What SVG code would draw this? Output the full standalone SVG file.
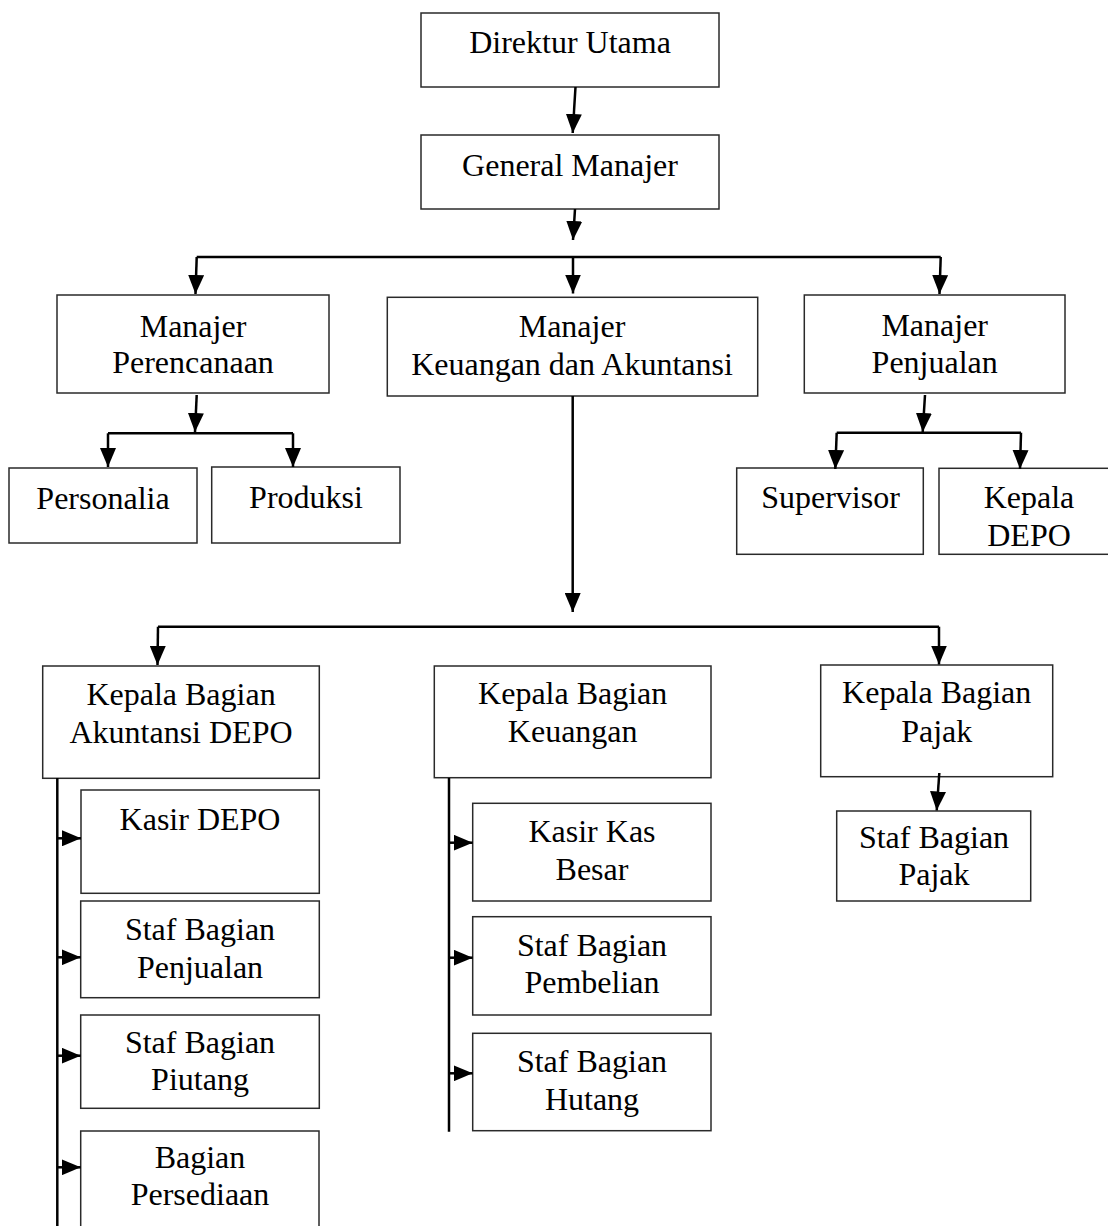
<svg xmlns="http://www.w3.org/2000/svg" width="1108" height="1226" viewBox="0 0 1108 1226">
<style>
.box{fill:#fff;stroke:#2a2a2a;stroke-width:1.5}
.t{font-family:"Liberation Serif","Times New Roman",serif;font-size:32px;fill:#000;text-anchor:middle}
.c{fill:none;stroke:#000;stroke-width:2.5}
.a{fill:none;stroke:#000;stroke-width:2.5;marker-end:url(#ah)}
</style>
<defs>
<marker id="ah" markerUnits="userSpaceOnUse" viewBox="0 0 19 16" markerWidth="19" markerHeight="16" refX="19" refY="8" orient="auto">
<path d="M0,0 L19,8 L0,16 z" fill="#000"/>
</marker>
<clipPath id="clipPajak"><rect x="836" y="811" width="196" height="89"/></clipPath>
</defs>
<rect width="1108" height="1226" fill="#fff"/>

<g id="n-direktur"><rect class="box" x="421" y="13" width="298" height="74"/><text class="t" x="570" y="53">Direktur Utama</text></g>
<g id="n-gm"><rect class="box" x="421" y="135" width="298" height="74"/><text class="t" x="570" y="176">General Manajer</text></g>
<g id="n-perencanaan"><rect class="box" x="57" y="295" width="272" height="98"/><text class="t" x="193" y="337">Manajer</text><text class="t" x="193" y="373">Perencanaan</text></g>
<g id="n-keuangan"><rect class="box" x="387.3" y="297.3" width="370.4" height="98.7"/><text class="t" x="572" y="337">Manajer</text><text class="t" x="572" y="375">Keuangan dan Akuntansi</text></g>
<g id="n-penjualan"><rect class="box" x="804.3" y="295" width="260.7" height="98"/><text class="t" x="934.7" y="336">Manajer</text><text class="t" x="934.7" y="373">Penjualan</text></g>
<g id="n-personalia"><rect class="box" x="9" y="468" width="188" height="75"/><text class="t" x="103" y="509">Personalia</text></g>
<g id="n-produksi"><rect class="box" x="211.7" y="467" width="188.3" height="76"/><text class="t" x="306" y="508">Produksi</text></g>
<g id="n-supervisor"><rect class="box" x="736.7" y="468" width="186.6" height="86.3"/><text class="t" x="830.5" y="508">Supervisor</text></g>
<g id="n-kepaladepo"><rect class="box" x="939" y="468.3" width="200" height="86"/><text class="t" x="1029" y="508">Kepala</text><text class="t" x="1029" y="546">DEPO</text></g>
<g id="n-kb-akuntansi"><rect class="box" x="42.7" y="666" width="276.6" height="112.3"/><text class="t" x="181" y="705">Kepala Bagian</text><text class="t" x="181" y="743">Akuntansi DEPO</text></g>
<g id="n-kasirdepo"><rect class="box" x="81" y="790" width="238.3" height="103.3"/><text class="t" x="200" y="830">Kasir DEPO</text></g>
<g id="n-staf-penjualan"><rect class="box" x="80.7" y="901" width="238.6" height="96.7"/><text class="t" x="200" y="940">Staf Bagian</text><text class="t" x="200" y="978">Penjualan</text></g>
<g id="n-staf-piutang"><rect class="box" x="80.7" y="1015" width="238.6" height="93.3"/><text class="t" x="200" y="1053">Staf Bagian</text><text class="t" x="200" y="1090">Piutang</text></g>
<g id="n-persediaan"><rect class="box" x="80.7" y="1131" width="238.3" height="110"/><text class="t" x="200" y="1168">Bagian</text><text class="t" x="200" y="1205">Persediaan</text></g>
<g id="n-kb-keuangan"><rect class="box" x="434.3" y="666" width="276.7" height="111.7"/><text class="t" x="572.7" y="704">Kepala Bagian</text><text class="t" x="572.7" y="742">Keuangan</text></g>
<g id="n-kasirkas"><rect class="box" x="472.7" y="803.3" width="238.3" height="97.7"/><text class="t" x="592" y="842">Kasir Kas</text><text class="t" x="592" y="880">Besar</text></g>
<g id="n-staf-pembelian"><rect class="box" x="472.7" y="916.7" width="238.3" height="98.3"/><text class="t" x="592" y="956">Staf Bagian</text><text class="t" x="592" y="993">Pembelian</text></g>
<g id="n-staf-hutang"><rect class="box" x="472.7" y="1033.3" width="238.3" height="97.4"/><text class="t" x="592" y="1072">Staf Bagian</text><text class="t" x="592" y="1110">Hutang</text></g>
<g id="n-kb-pajak"><rect class="box" x="820.7" y="665" width="232" height="111.7"/><text class="t" x="936.7" y="703">Kepala Bagian</text><text class="t" x="936.7" y="742">Pajak</text></g>
<g id="n-staf-pajak"><rect class="box" x="836.7" y="811" width="194" height="90"/><g clip-path="url(#clipPajak)"><text class="t" x="934" y="848">Staf Bagian</text><text class="t" x="934" y="885">Pajak</text></g></g>

<g id="connectors">
<path class="a" d="M575.5,87 L572.7,133"/>
<path class="a" d="M575,209 L573,240"/>
<path class="c" d="M196.7,257 L940.7,257"/>
<path class="a" d="M196.7,257 L195.5,294"/>
<path class="a" d="M573,257 L573,293.5"/>
<path class="a" d="M940.7,257 L939.5,294"/>
<path class="a" d="M196.7,395 L195,432"/>
<path class="c" d="M108,433.3 L293,433.3"/>
<path class="a" d="M108,433.3 L108,467"/>
<path class="a" d="M293,433.3 L293,467"/>
<path class="a" d="M925,395 L922.7,432"/>
<path class="c" d="M836.7,432.7 L1021,432.7"/>
<path class="a" d="M836.7,432.7 L835.3,469"/>
<path class="a" d="M1021,432.7 L1020,469"/>
<path class="a" d="M572.7,396 L572.7,612"/>
<path class="c" d="M158,626.7 L939,626.7"/>
<path class="a" d="M158,626.7 L157.5,665"/>
<path class="a" d="M939,626.7 L939,664.5"/>
<path class="c" d="M57.3,778 L57.3,1226"/>
<path class="a" d="M57.3,838.3 L81,838.3"/>
<path class="a" d="M57.3,957.3 L80.7,957.3"/>
<path class="a" d="M57.3,1055.7 L80.7,1055.7"/>
<path class="a" d="M57.3,1167.3 L80.7,1167.3"/>
<path class="c" d="M449,778 L449,1131.7"/>
<path class="a" d="M449,842.7 L472.7,842.7"/>
<path class="a" d="M449,957.7 L472.7,957.7"/>
<path class="a" d="M449,1073.3 L472.7,1073.3"/>
<path class="a" d="M939.3,773 L936.7,810.5"/>
</g>
</svg>
